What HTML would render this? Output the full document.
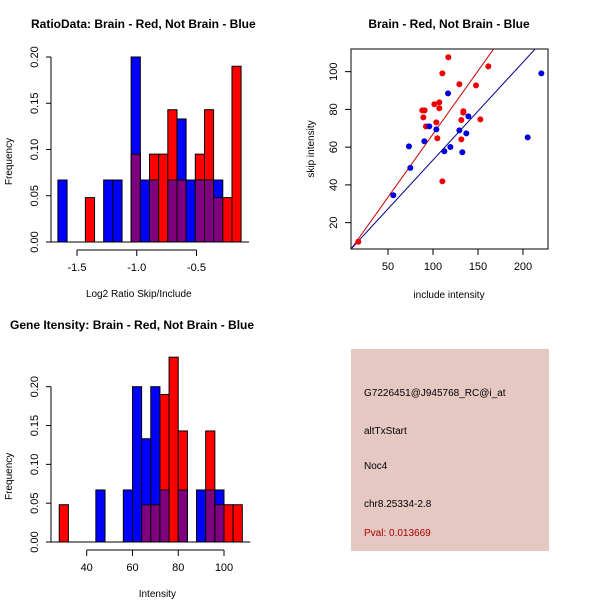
<!DOCTYPE html>
<html><head><meta charset="utf-8"><style>
html,body{margin:0;padding:0;background:#fff}
svg text{font-family:"Liberation Sans",sans-serif}
</style></head><body>
<svg id="s" width="600" height="600" xmlns="http://www.w3.org/2000/svg"></svg>
<script>
// ---- Ratio histogram data (20 bins, -1.66 .. -0.13)
const ratioBins = [-1.66,-1.583,-1.507,-1.43,-1.353,-1.277,-1.2,-1.123,-1.047,-0.97,-0.893,-0.817,-0.74,-0.663,-0.587,-0.51,-0.433,-0.357,-0.28,-0.203,-0.127];
const ratioBlue = [0.067,0,0,0,0,0.067,0.067,0,0.2,0.067,0.067,0,0.067,0.133,0.067,0.067,0.067,0.067,0,0];
const ratioRed  = [0,0,0,0.048,0,0,0,0,0.095,0,0.095,0.095,0.143,0.067,0,0.095,0.143,0.048,0.048,0.19];
const ratioXTicks = [-1.5,-1.0,-0.5];
const ratioXTickLabels = ["-1.5","-1.0","-0.5"];
const freqTicks = [0,0.05,0.10,0.15,0.20];
const freqTickLabels = ["0.00","0.05","0.10","0.15","0.20"];
// ---- Intensity histogram data (20 bins, 28..108)
const intBins = [28,32,36,40,44,48,52,56,60,64,68,72,76,80,84,88,92,96,100,104,108];
const intBlue = [0,0,0,0,0.067,0,0,0.067,0.2,0.133,0.2,0.067,0,0.067,0,0.067,0.067,0.067,0,0];
const intRed  = [0.048,0,0,0,0,0,0,0,0,0.048,0.048,0.19,0.238,0.143,0,0,0.143,0.048,0.048,0.048];
const intXTicks = [40,60,80,100];
// ---- Scatter data
const redInclude = [17.0,117.0,110.4,161.5,129.3,147.8,107.0,101.5,107.0,88.1,90.7,89.3,133.7,133.7,103.7,131.5,152.6,92.2,104.8,131.5,110.4];
const redSkip    = [9.9,107.6,99.1,102.8,93.3,92.7,83.7,82.7,80.6,79.5,79.5,75.8,79.0,78.3,73.1,74.4,74.7,71.0,64.7,64.1,41.9];
const blueInclude = [55.9,74.8,73.3,90.4,95.9,103.7,116.7,112.6,119.3,129.3,139.3,137.0,132.6,205.2,220.4];
const blueSkip    = [34.5,49.0,60.4,63.1,71.0,69.4,88.5,57.8,60.1,68.9,76.3,67.3,57.3,65.2,99.1];
const redFit = [0.04,0.669];
const blueFit = [1.4,0.518];
const scXTicks = [50,100,150,200];
const scYTicks = [20,40,60,80,100];

const S=document.getElementById('s');
function el(t,a,txt){const e=document.createElementNS('http://www.w3.org/2000/svg',t);for(const k in a)e.setAttribute(k,a[k]);if(txt!==undefined)e.textContent=txt;S.appendChild(e);return e;}
function txt(x,y,s,o){o=o||{};const a={x:x,y:y,'font-size':o.fs||11,'text-anchor':o.anchor||'middle',fill:o.fill||'#000'};if(o.bold)a['font-weight']='bold';if(o.rot)a.transform='rotate(-90 '+x+' '+y+')';const e=el('text',a,s);return e;}

function hist(cfg){
  const {bins,blue,red,xmin,xmax,px0,px1,py0,pyTop,ymaxV,xticks,xlabels,title,xlabel,tx0,tx1,name}=cfg;
  const X=v=>px0+(v-xmin)/(xmax-xmin)*(px1-px0);
  const Y=v=>py0-v/ymaxV*(py0-pyTop);
  for(let i=0;i<blue.length;i++){
    const b=blue[i],r=red[i],x0=X(bins[i]),x1=X(bins[i+1]);
    const hi=Math.max(b,r),lo=Math.min(b,r);
    if(hi>0){const e=el('rect',{x:x0,y:Y(hi),width:x1-x0,height:Y(0)-Y(hi),fill:b>r?'#0000ff':'#ff0000',stroke:'#000','stroke-width':1});
      
      }
    if(lo>0){const e=el('rect',{x:x0,y:Y(lo),width:x1-x0,height:Y(0)-Y(lo),fill:'#7f007f',stroke:'#000','stroke-width':1});
      
      }
  }
  // baseline
  el('line',{x1:51,x2:X(bins[bins.length-1])+8,y1:py0,y2:py0,stroke:'#000'});
  // y axis
  const ax=51;
  el('line',{x1:ax,x2:ax,y1:Y(0),y2:Y(0.2),stroke:'#000'});
  freqTicks.forEach((t,i)=>{el('line',{x1:ax-5,x2:ax,y1:Y(t),y2:Y(t),stroke:'#000'});
    const e=txt(ax-13,Y(t),freqTickLabels[i],{rot:1});
    });
  const ay=py0+8;
  el('line',{x1:X(xticks[0]),x2:X(xticks[xticks.length-1]),y1:ay,y2:ay,stroke:'#000'});
  xticks.forEach((t,i)=>{el('line',{x1:X(t),x2:X(t),y1:ay,y2:ay+6,stroke:'#000'});
    const e=txt(X(t),ay+21,xlabels[i]);});
  const tt=txt(tx0,tx1,title,{bold:1,fs:12,anchor:'start'});
  const xl=txt((px0+px1)/2+2,py0+55,xlabel,{fs:10});
  const yl=txt(12,(py0+Y(0.2))/2+12,'Frequency',{rot:1,fs:10});
}
hist({bins:ratioBins,blue:ratioBlue,red:ratioRed,xmin:-1.5,xmax:-0.5,px0:77,px1:196.5,py0:242,pyTop:57,ymaxV:0.2,
  xticks:ratioXTicks,xlabels:ratioXTickLabels,title:'RatioData: Brain - Red, Not Brain - Blue',xlabel:'Log2 Ratio Skip/Include',tx0:31,tx1:28,name:'ratio'});
hist({bins:intBins,blue:intBlue,red:intRed,xmin:40,xmax:100,px0:86.7,px1:224,py0:542,pyTop:386.7,ymaxV:0.2,
  xticks:intXTicks,xlabels:intXTicks.map(String),title:'Gene Itensity: Brain - Red, Not Brain - Blue',xlabel:'Intensity',tx0:10,tx1:329,name:'intensity'});

// scatter
(function(){
  const X=v=>343+v*0.9, Y=v=>260.4-v*1.8875;
  const b=el('rect',{x:351,y:49,width:197,height:200,fill:'none',stroke:'#000'});
  
  const cp=el('clipPath',{id:'cp'});const r=document.createElementNS('http://www.w3.org/2000/svg','rect');
  r.setAttribute('x',351);r.setAttribute('y',49);r.setAttribute('width',197);r.setAttribute('height',200);cp.appendChild(r);
  [[redFit,'#cc0000','red-fit-line'],[blueFit,'#00008b','blue-fit-line']].forEach(([f,c,n])=>{
    const l=el('line',{x1:X(0),y1:Y(f[0]),x2:X(250),y2:Y(f[0]+f[1]*250),stroke:c,'stroke-width':1,'clip-path':'url(#cp)'});
    });
  redInclude.forEach((v,i)=>{const c=el('circle',{cx:X(v),cy:Y(redSkip[i]),r:3,fill:'#ee0000'});
    });
  blueInclude.forEach((v,i)=>{const c=el('circle',{cx:X(v),cy:Y(blueSkip[i]),r:3,fill:'#0000dd'});
    });
  scXTicks.forEach(t=>{el('line',{x1:X(t),x2:X(t),y1:249,y2:255,stroke:'#000'});
    const e=txt(X(t),270,String(t));});
  scYTicks.forEach(t=>{el('line',{x1:345,x2:351,y1:Y(t),y2:Y(t),stroke:'#000'});
    const e=txt(337,Y(t),String(t),{rot:1});});
  const t=txt(449,28,'Brain - Red, Not Brain - Blue',{bold:1,fs:12});
  const xl=txt(449,298,'include intensity',{fs:10});
  const yl=txt(314,149,'skip intensity',{rot:1,fs:10});
})();

// info panel
(function(){
  const p=el('rect',{x:351,y:349,width:198,height:202,fill:'#e5c8c2'});
  
  [['G7226451@J945768_RC@i_at',396,'#000','probe-id'],['altTxStart',434,'#000','event-type'],['Noc4',469,'#000','gene-name'],['chr8.25334-2.8',507,'#000','location'],['Pval: 0.013669',536,'#aa0000','p-value']].forEach(([s,y,c,n])=>{
    const e=txt(364,y,s,{anchor:'start',fs:10,fill:c});});
})();
</script>
</body></html>
